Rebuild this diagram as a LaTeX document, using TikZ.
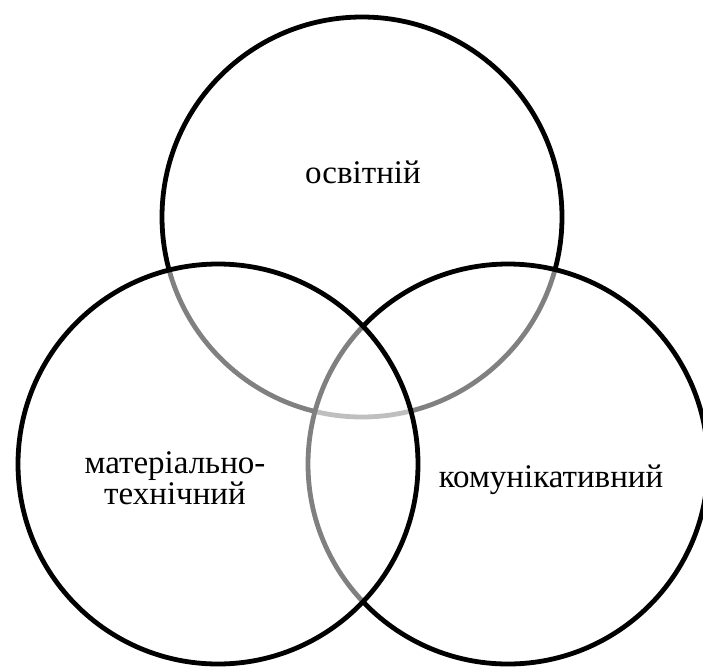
\documentclass[tikz,border=0pt]{standalone}
\usepackage{fontspec}
\setmainfont{Liberation Serif}
\begin{document}
\begin{tikzpicture}[x=1pt,y=-1pt,
  circ/.style={circle, draw=black, line width=4.8pt, fill=white, fill opacity=0.5, draw opacity=1, inner sep=0pt, outer sep=0pt, minimum size=400pt},
  lbl/.style={font=\fontsize{33}{31}\selectfont, anchor=base, inner sep=0pt, align=center}]
\useasboundingbox (0,0) rectangle (703,670);
\node[circ] (top) at (362,217) {};
\node[circ] (right) at (508,464) {};
\node[circ] (left) at (218,464) {};
\node[lbl] (t1) at (363,183) {освітній};
\node[lbl] (t2) at (175,504) {матеріально-\\технічний};
\node[lbl] (t3) at (551,487) {комунікативний};
\end{tikzpicture}
\end{document}
